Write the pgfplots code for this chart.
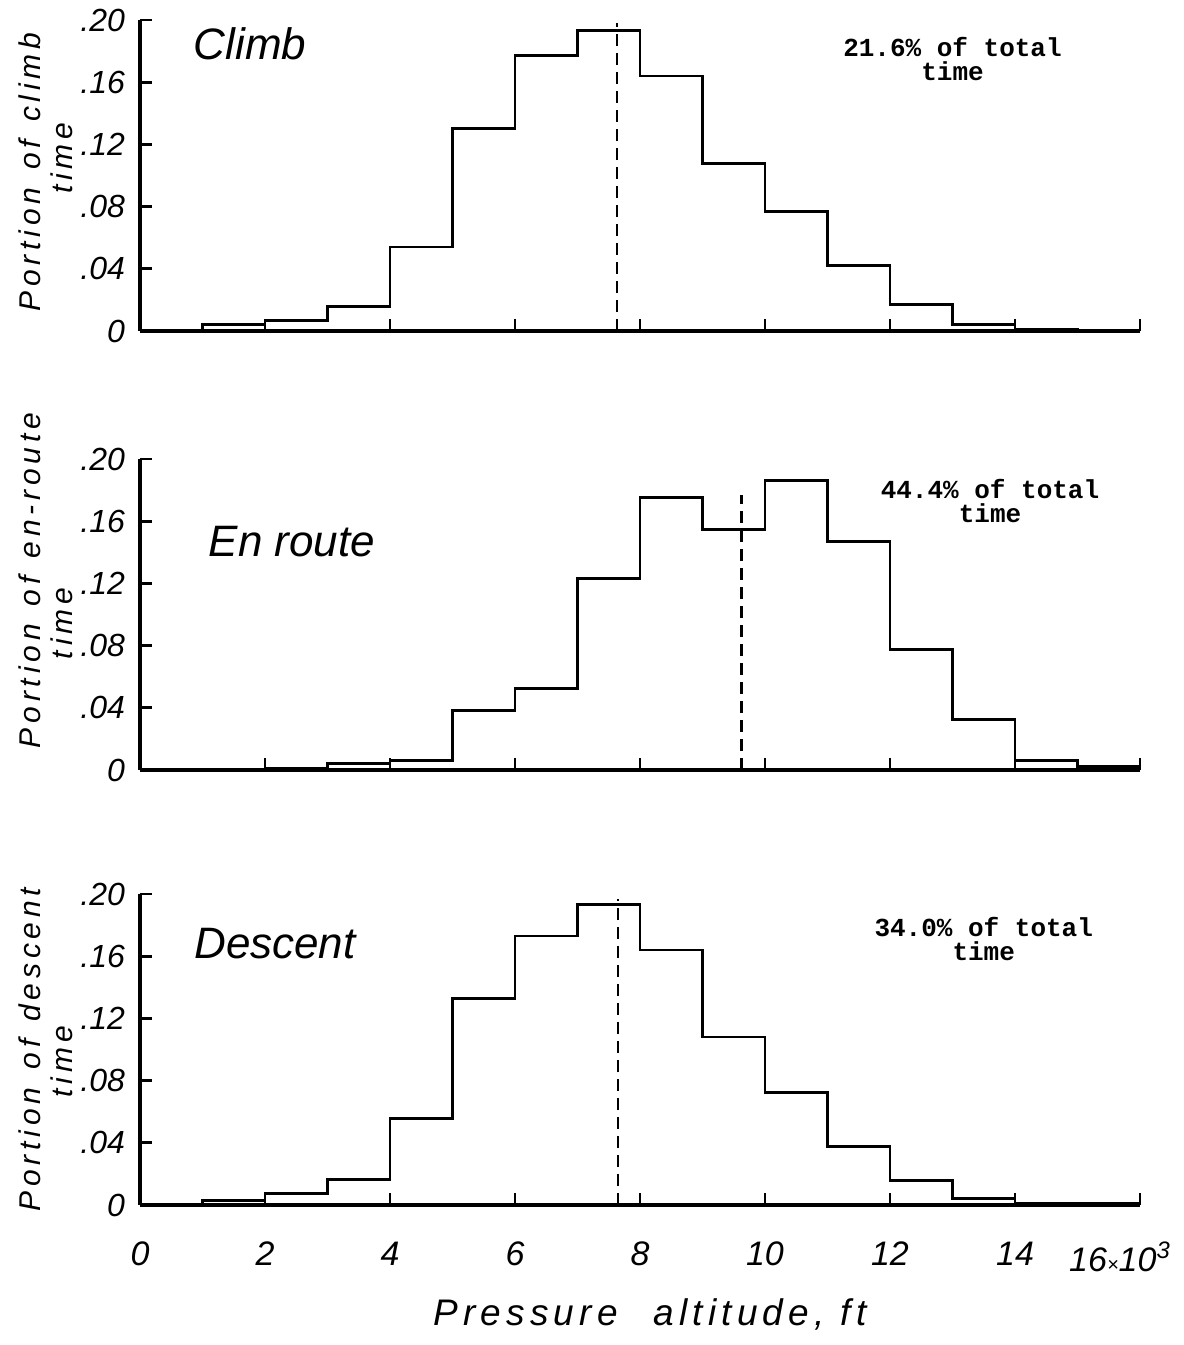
\documentclass[border=0pt]{standalone}
\usepackage{pgfplots}
\pgfplotsset{compat=1.18}
\usepackage{fontspec}
\setmainfont{Liberation Sans}
\newfontfamily\tw{Liberation Mono}
\newfontfamily\hand{Liberation Sans}[LetterSpace=14]
\newfontfamily\handy{Liberation Sans}[LetterSpace=16]

\pgfplotstableread{
x y
0 0.0005
1 0.004
2 0.007
3 0.016
4 0.054
5 0.130
6 0.177
7 0.193
8 0.164
9 0.1075
10 0.077
11 0.042
12 0.0168
13 0.0043
14 0.001
15 0.0005
16 0.0005
}\climb

\pgfplotstableread{
x y
0 0.0
1 0.0005
2 0.001
3 0.004
4 0.006
5 0.0385
6 0.0526
7 0.123
8 0.175
9 0.1547
10 0.186
11 0.147
12 0.0777
13 0.0327
14 0.006
15 0.002
16 0.002
}\enroute

\pgfplotstableread{
x y
0 0.0
1 0.003
2 0.0075
3 0.0166
4 0.0557
5 0.133
6 0.173
7 0.193
8 0.164
9 0.108
10 0.0725
11 0.0376
12 0.0157
13 0.0043
14 0.001
15 0.001
16 0.001
}\descent

\pgfplotsset{
  panel/.style={
    width=500pt, height=155.5pt, scale only axis,
    xmin=0, xmax=16, ymin=0, ymax=0.2,
    axis lines=left, axis line style={-, line width=1.6pt},
    xtick={0,2,...,16},
    ytick={0,0.04,0.08,0.12,0.16,0.2},
    yticklabels={0,.04,.08,.12,.16,.20},
    tick align=inside, major tick length=6pt,
    tick style={line width=1.4pt, black},
    xticklabel style={font=\fontsize{17}{17}\selectfont\itshape, yshift=-15pt},
    yticklabel style={font=\fontsize{16}{16}\selectfont\itshape, xshift=-4pt},
    clip=false,
  },
  step/.style={const plot, black, line width=1.4pt, mark=none},
  vdash/.style={black, line width=1.3pt, dash pattern=on 6pt off 3.5pt, mark=none},
}
\tikzset{
  ylab/.style={rotate=90, font=\handy\fontsize{15}{15}\selectfont\itshape},
  plab/.style={font=\fontsize{22}{22}\selectfont\itshape},
  ann/.style={font=\tw\bfseries\fontsize{13}{12}\selectfont, align=center},
}
\newcommand\wsp{\hspace*{9pt}}

\begin{document}
\begin{tikzpicture}
\path[use as bounding box] (-70pt,-70pt) rectangle (522pt,602.5pt);

% Climb
\begin{axis}[panel, at={(0,437pt)}, anchor=south west, xticklabels={}]
\addplot[step] table[x=x,y=y]{\climb};
\addplot[vdash] coordinates {(7.63,0) (7.63,0.198)};
\node[plab] at (axis cs:1.76,0.185) {Climb};
\node[ann] at (axis cs:13.0,0.175) {21.6\% of total\\time};
\node[ylab] at (axis description cs:-0.11,0.511) {\mbox{Portion}\wsp\mbox{of}\wsp\mbox{climb}};
\node[ylab] at (axis description cs:-0.078,0.556) {time};
\end{axis}

% En route
\begin{axis}[panel, at={(0,217.5pt)}, anchor=south west, xticklabels={}]
\addplot[step] table[x=x,y=y]{\enroute};
\addplot[vdash] coordinates {(9.62,0) (9.62,0.177)};
\node[plab] at (axis cs:2.43,0.147) {En route};
\node[ann] at (axis cs:13.6,0.173) {44.4\% of total\\time};
\node[ylab] at (axis description cs:-0.11,0.609) {\mbox{Portion}\wsp\mbox{of}\wsp\mbox{en-route}};
\node[ylab] at (axis description cs:-0.078,0.471) {time};
\end{axis}

% Descent
\begin{axis}[panel, at={(0,0)}, anchor=south west,
  xticklabels={0,2,4,6,8,10,12,14,{\hspace*{-20pt}16{\fontsize{10}{10}\selectfont×}10\textsuperscript{3}}}]
\addplot[step] table[x=x,y=y]{\descent};
\addplot[vdash] coordinates {(7.65,0) (7.65,0.197)};
\node[plab] at (axis cs:2.16,0.168) {Descent};
\node[ann] at (axis cs:13.5,0.171) {34.0\% of total\\time};
\node[ylab] at (axis description cs:-0.11,0.5) {\mbox{Portion}\wsp\mbox{of}\wsp\mbox{descent}};
\node[ylab] at (axis description cs:-0.078,0.461) {time};
\node[font=\hand\fontsize{18.5}{18.5}\selectfont\itshape, anchor=base] at (axis description cs:0.51,-0.387) {\mbox{Pressure}\hspace*{18pt}\mbox{altitude,}\hspace*{8pt}\mbox{ft}};
\end{axis}
\end{tikzpicture}
\end{document}
